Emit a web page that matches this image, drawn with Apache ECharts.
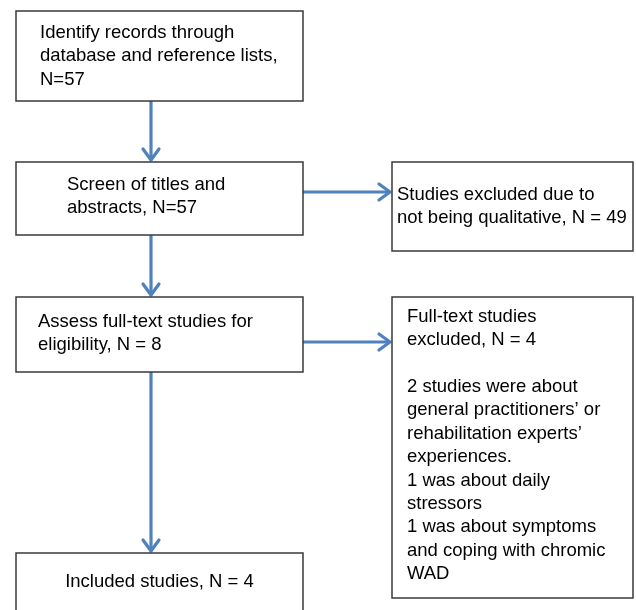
<!DOCTYPE html>
<html>
<head>
<meta charset="utf-8">
<script src="https://cdn.jsdelivr.net/npm/echarts@6/dist/echarts.min.js"></script>
<style>
html,body{margin:0;padding:0;background:#fff;}
#chart{width:636px;height:610px;}
</style>
</head>
<body>
<div id="chart"></div>
<script>
// ---- content ----
const boxTexts = [
  'Identify records through\ndatabase and reference lists,\nN=57',
  'Screen of titles and\nabstracts, N=57',
  'Studies excluded due to\nnot being qualitative, N = 49',
  'Assess full-text studies for\neligibility, N = 8',
  'Full-text studies\nexcluded, N = 4\n\n2 studies were about\ngeneral practitioners\u2019 or\nrehabilitation experts\u2019\nexperiences.\n1 was about daily\nstressors\n1 was about symptoms\nand coping with chromic\nWAD',
  'Included studies, N = 4'
];
// ---- layout (page units: x right, y down) ----
// [x1, y1, x2, y2, textX, textY, align]
const boxLayout = [
  [16, 11, 303, 101, 40, 21, 'left'],
  [16, 162, 303, 235, 67, 173, 'left'],
  [392, 162, 633, 251, 397, 183, 'left'],
  [16, 297, 303, 372, 38, 310, 'left'],
  [392, 297, 633, 598, 407, 305, 'left'],
  [16, 553, 303, 625, 159.5, 570.5, 'center']
];
// [xStart, yStart, xEnd, yEnd]
const arrowLayout = [
  [151, 101, 151, 160],
  [303, 192, 390, 192],
  [151, 235, 151, 295],
  [303, 342, 390, 342],
  [151, 372, 151, 551]
];

const chart = echarts.init(document.getElementById('chart'), null, {renderer: 'canvas'});

const boxData = boxLayout.map((b, i) => b.slice(0, 6).concat([i]));

const option = {
  animation: false,
  backgroundColor: '#ffffff',
  grid: {left: 0, right: 0, top: 0, bottom: 0},
  xAxis: {type: 'value', min: 0, max: 636, show: false},
  yAxis: {type: 'value', min: 0, max: 610, inverse: true, show: false},
  series: [
    {
      type: 'custom',
      coordinateSystem: 'cartesian2d',
      clip: false,
      data: arrowLayout,
      renderItem: function (params, api) {
        const p1 = api.coord([api.value(0), api.value(1)]);
        const p2 = api.coord([api.value(2), api.value(3)]);
        const dx = p2[0] - p1[0], dy = p2[1] - p1[1];
        const len = Math.sqrt(dx * dx + dy * dy);
        const ux = dx / len, uy = dy / len;
        const back = 11, side = 8;
        const a1 = [p2[0] - ux * back - uy * side, p2[1] - uy * back + ux * side];
        const a2 = [p2[0] - ux * back + uy * side, p2[1] - uy * back - ux * side];
        const style = {stroke: '#4f81bd', lineWidth: 3.2, fill: null, lineCap: 'round', lineJoin: 'round'};
        return {
          type: 'group',
          children: [
            {type: 'line', shape: {x1: p1[0], y1: p1[1], x2: p2[0] - ux * 1.5, y2: p2[1] - uy * 1.5}, style: Object.assign({}, style, {lineCap: 'butt'})},
            {type: 'polyline', shape: {points: [a1, p2, a2]}, style: style}
          ]
        };
      }
    },
    {
      type: 'custom',
      coordinateSystem: 'cartesian2d',
      clip: false,
      data: boxData,
      renderItem: function (params, api) {
        const p1 = api.coord([api.value(0), api.value(1)]);
        const p2 = api.coord([api.value(2), api.value(3)]);
        const t = api.coord([api.value(4), api.value(5)]);
        const idx = api.value(6);
        const align = boxLayout[idx][6];
        return {
          type: 'group',
          children: [
            {
              type: 'rect',
              shape: {x: p1[0], y: p1[1], width: p2[0] - p1[0], height: p2[1] - p1[1]},
              style: {fill: '#ffffff', stroke: '#3a3a3a', lineWidth: 1.5}
            },
            {
              type: 'text',
              style: {
                text: boxTexts[idx],
                x: t[0], y: t[1],
                fill: '#000000',
                font: '18.5px "Liberation Sans", Arial, sans-serif',
                lineHeight: 23.4,
                align: align,
                verticalAlign: 'top'
              }
            }
          ]
        };
      }
    }
  ]
};
chart.setOption(option);
</script>
</body>
</html>
